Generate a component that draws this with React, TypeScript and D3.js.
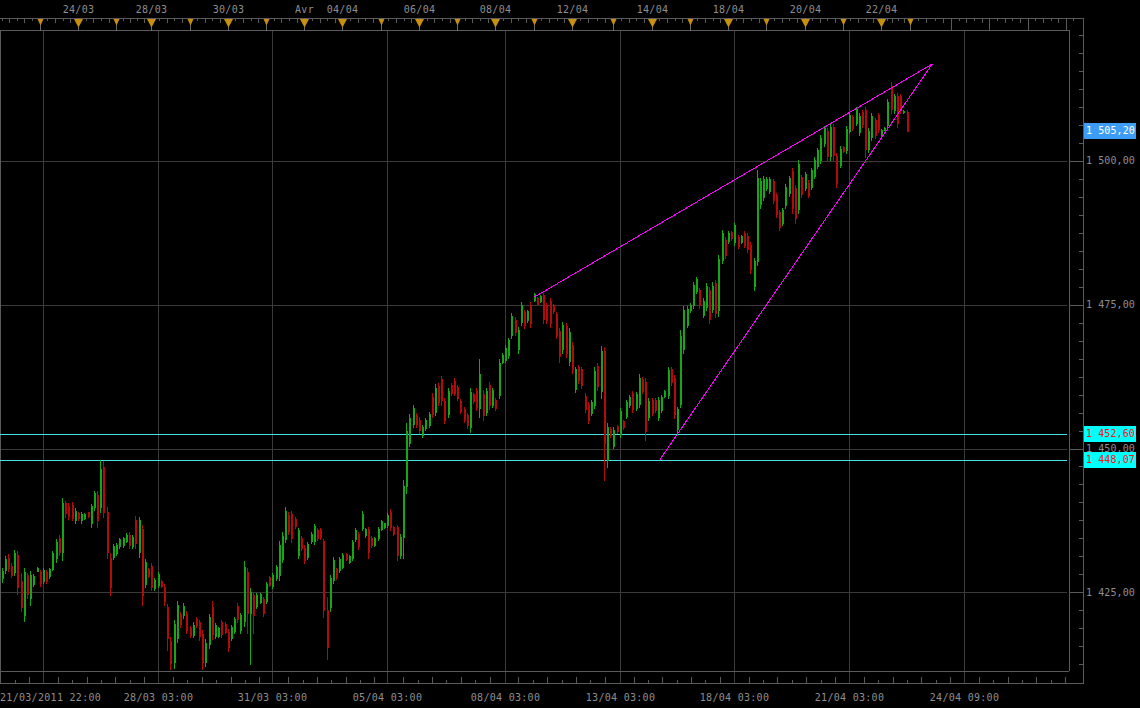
import * as d3 from 'd3';
import { useEffect } from 'react';

// 2h bars (prices)
const opens = [
  1427.5, 1428.9, 1431.0, 1429.6, 1428.5, 1431.5, 1427.0, 1421.0, 1428.0, 1424.0,
  1426.5, 1428.8, 1428.6, 1427.0, 1428.5, 1427.8, 1429.1, 1431.0, 1434.5, 1432.0,
  1440.5, 1440.0, 1440.2, 1437.6, 1438.8, 1437.5, 1437.9, 1438.9, 1437.0, 1439.8,
  1442.0, 1439.8, 1446.8, 1439.0, 1431.0, 1431.2, 1431.9, 1433.0, 1433.3, 1434.0,
  1435.0, 1433.0, 1437.5, 1432.0, 1436.0, 1426.5, 1429.0, 1429.6, 1425.8, 1426.3,
  1427.0, 1426.0, 1422.5, 1416.5, 1413.0, 1417.0, 1421.2, 1421.0, 1421.2, 1418.8,
  1417.6, 1420.4, 1419.8, 1417.8, 1413.0, 1416.0, 1422.5, 1417.5, 1417.5, 1419.8,
  1419.5, 1418.2, 1417.0, 1418.3, 1422.7, 1418.5, 1420.0, 1428.5, 1421.5, 1424.5,
  1422.6, 1423.4, 1423.8, 1423.5, 1427.6, 1426.2, 1427.5, 1428.0, 1430.8, 1434.3,
  1438.5, 1438.6, 1437.8, 1431.5, 1434.5, 1432.8, 1431.2, 1433.9, 1433.9, 1435.9,
  1436.0, 1434.0, 1422.0, 1422.5, 1427.2, 1429.0, 1428.9, 1429.5, 1431.6, 1430.3,
  1431.0, 1434.2, 1435.2, 1436.2, 1434.9, 1436.0, 1434.5, 1433.3, 1434.4, 1436.1,
  1436.4, 1436.7, 1439.0, 1436.3, 1436.3, 1431.5, 1434.7, 1443.5, 1451.0, 1454.2,
  1455.8, 1455.0, 1452.3, 1453.5, 1454.0, 1459.0, 1456.3, 1460.8, 1462.0, 1458.2,
  1456.0, 1461.1, 1461.8, 1460.6, 1458.3, 1456.8, 1455.8, 1453.8, 1459.4, 1460.0,
  1457.0, 1459.5, 1456.3, 1461.0, 1457.6, 1458.5, 1459.3, 1465.0, 1465.4, 1466.2,
  1469.7, 1472.4, 1467.2, 1472.0, 1473.7, 1472.3, 1475.0, 1475.8, 1476.1, 1475.6,
  1476.6, 1474.9, 1475.6, 1474.9, 1473.3, 1470.4, 1467.2, 1471.3, 1465.2, 1468.0,
  1460.3, 1464.1, 1463.8, 1459.2, 1457.6, 1456.2, 1457.6, 1464.3, 1460.0, 1467.0,
  1448.0, 1453.4, 1450.5, 1453.9, 1452.5, 1454.7, 1455.6, 1457.5, 1459.6, 1457.1,
  1457.8, 1462.0, 1461.6, 1455.4, 1458.4, 1458.5, 1455.4, 1456.7, 1459.1, 1459.3,
  1463.8, 1462.2, 1453.4, 1457.8, 1467.3, 1471.5, 1474.0, 1474.9, 1477.4, 1477.5,
  1473.2, 1474.6, 1477.5, 1474.2, 1478.7, 1474.0, 1482.8, 1486.2, 1486.0, 1487.6,
  1485.8, 1486.8, 1485.9, 1487.5, 1487.0, 1485.4, 1478.2, 1482.5, 1492.4, 1493.7,
  1495.2, 1494.8, 1496.4, 1494.0, 1491.0, 1489.2, 1492.3, 1494.3, 1498.2, 1495.3,
  1491.6, 1497.1, 1495.3, 1496.2, 1495.5, 1497.4, 1499.1, 1500.1, 1503.0, 1505.2,
  1500.8, 1505.9, 1500.8, 1499.3, 1502.3, 1501.8, 1505.2, 1507.6, 1506.6, 1505.0,
  1508.5, 1508.8, 1502.0, 1504.1, 1507.0, 1507.9, 1504.5, 1505.4, 1506.2, 1513.0,
  1508.8, 1511.2, 1511.2, 1508.4, 1508.5,
];
const highs = [
  1429.2, 1431.3, 1431.7, 1430.1, 1432.4, 1432.2, 1428.4, 1429.2, 1428.4, 1428.7,
  1428.2, 1429.4, 1428.9, 1429.2, 1428.9, 1429.2, 1432.2, 1434.3, 1435.0, 1441.4,
  1440.9, 1440.5, 1440.7, 1439.7, 1439.0, 1439.0, 1438.8, 1439.0, 1440.4, 1442.6,
  1442.6, 1448.0, 1447.8, 1439.8, 1431.8, 1433.4, 1433.6, 1434.5, 1434.6, 1435.3,
  1435.5, 1435.0, 1438.3, 1438.1, 1436.7, 1430.8, 1429.2, 1430.1, 1427.5, 1428.5,
  1427.2, 1426.5, 1423.0, 1417.3, 1420.2, 1423.5, 1421.6, 1423.1, 1421.8, 1419.1,
  1419.8, 1420.7, 1420.2, 1418.5, 1416.9, 1421.2, 1423.5, 1419.7, 1419.0, 1420.2,
  1419.8, 1418.6, 1419.3, 1420.7, 1423.1, 1421.4, 1430.4, 1429.2, 1425.8, 1424.9,
  1424.9, 1424.9, 1424.2, 1426.8, 1427.8, 1428.4, 1429.8, 1433.9, 1435.5, 1439.8,
  1439.0, 1439.1, 1438.1, 1436.2, 1434.8, 1433.2, 1433.7, 1435.5, 1436.9, 1436.2,
  1436.2, 1434.3, 1424.2, 1428.0, 1431.1, 1429.2, 1431.1, 1431.8, 1431.8, 1431.5,
  1434.1, 1436.2, 1435.5, 1439.1, 1436.2, 1436.4, 1434.8, 1434.6, 1436.4, 1437.6,
  1437.1, 1438.8, 1439.5, 1436.5, 1436.7, 1435.1, 1444.5, 1454.4, 1456.0, 1457.5,
  1456.2, 1455.5, 1454.1, 1455.3, 1456.3, 1459.6, 1461.2, 1461.4, 1462.6, 1458.8,
  1460.5, 1461.4, 1462.2, 1461.0, 1458.6, 1457.2, 1456.2, 1460.5, 1459.6, 1460.5,
  1465.5, 1460.2, 1460.5, 1461.6, 1460.5, 1458.8, 1465.5, 1466.6, 1467.9, 1469.2,
  1473.5, 1472.8, 1471.1, 1475.4, 1474.1, 1474.1, 1475.4, 1477.0, 1476.3, 1476.7,
  1477.0, 1475.3, 1476.1, 1475.1, 1473.7, 1470.9, 1472.0, 1471.8, 1470.9, 1468.5,
  1464.2, 1464.5, 1464.2, 1459.6, 1458.1, 1458.4, 1464.2, 1464.8, 1467.8, 1467.6,
  1454.4, 1453.7, 1453.7, 1454.1, 1457.0, 1454.9, 1458.4, 1459.3, 1460.0, 1459.8,
  1462.9, 1462.4, 1462.2, 1458.8, 1458.8, 1458.8, 1458.9, 1459.3, 1460.2, 1464.2,
  1464.2, 1462.8, 1457.2, 1470.6, 1474.7, 1474.7, 1475.3, 1478.9, 1479.8, 1477.9,
  1476.1, 1478.7, 1478.0, 1478.9, 1479.3, 1483.6, 1487.9, 1486.7, 1487.8, 1487.8,
  1489.2, 1487.1, 1487.1, 1487.8, 1487.4, 1485.9, 1483.1, 1498.4, 1497.0, 1497.3,
  1497.2, 1497.2, 1496.8, 1494.4, 1491.4, 1491.8, 1495.9, 1497.3, 1498.7, 1495.8,
  1500.1, 1497.5, 1498.0, 1496.6, 1498.7, 1500.6, 1502.2, 1504.4, 1506.0, 1505.7,
  1506.4, 1506.4, 1501.3, 1502.5, 1502.5, 1506.0, 1508.4, 1507.9, 1509.3, 1508.3,
  1508.8, 1509.3, 1505.7, 1508.3, 1507.4, 1508.3, 1505.5, 1505.8, 1510.7, 1513.7,
  1511.6, 1511.7, 1511.6, 1508.8, 1508.8,
];
const lows = [
  1426.8, 1428.4, 1428.7, 1427.7, 1428.0, 1424.7, 1421.8, 1420.0, 1424.0, 1422.8,
  1426.1, 1428.7, 1426.1, 1426.6, 1426.6, 1427.5, 1428.9, 1430.3, 1431.5, 1430.6,
  1438.1, 1437.7, 1437.6, 1437.1, 1437.6, 1437.1, 1437.7, 1438.1, 1436.4, 1439.3,
  1436.4, 1439.0, 1438.1, 1431.0, 1424.6, 1430.8, 1431.5, 1432.7, 1432.9, 1433.8,
  1432.7, 1432.7, 1432.7, 1431.1, 1422.8, 1425.9, 1427.7, 1425.4, 1425.4, 1425.9,
  1425.9, 1422.8, 1415.0, 1411.7, 1411.9, 1416.4, 1419.0, 1420.5, 1417.9, 1417.2,
  1417.2, 1419.0, 1416.7, 1411.7, 1412.2, 1415.3, 1416.9, 1417.1, 1417.2, 1417.2,
  1417.9, 1414.8, 1416.7, 1417.9, 1419.8, 1417.9, 1419.2, 1417.9, 1412.6, 1417.9,
  1422.3, 1423.2, 1420.9, 1423.2, 1426.1, 1425.8, 1427.2, 1427.2, 1430.3, 1433.8,
  1435.1, 1433.8, 1436.2, 1431.0, 1432.4, 1430.1, 1430.8, 1433.6, 1433.4, 1434.1,
  1434.3, 1420.7, 1413.4, 1421.8, 1426.6, 1427.3, 1428.5, 1429.2, 1430.6, 1430.1,
  1430.6, 1433.9, 1432.5, 1435.8, 1434.6, 1431.0, 1432.9, 1433.1, 1434.1, 1435.8,
  1436.2, 1436.4, 1435.8, 1435.0, 1430.6, 1431.0, 1431.0, 1442.3, 1450.4, 1453.7,
  1453.7, 1452.7, 1452.0, 1453.2, 1453.7, 1455.5, 1455.8, 1457.6, 1457.6, 1454.4,
  1455.5, 1459.3, 1459.3, 1458.4, 1456.2, 1454.6, 1453.5, 1452.9, 1457.9, 1456.7,
  1455.5, 1454.9, 1455.8, 1456.9, 1457.2, 1456.7, 1458.8, 1464.8, 1465.0, 1465.7,
  1469.2, 1469.7, 1466.6, 1471.5, 1470.9, 1472.0, 1471.1, 1475.6, 1474.9, 1475.4,
  1471.8, 1471.8, 1471.1, 1473.5, 1469.2, 1465.0, 1466.6, 1465.9, 1464.5, 1463.1,
  1459.8, 1461.4, 1460.5, 1456.3, 1454.4, 1455.8, 1457.0, 1460.2, 1458.8, 1444.5,
  1446.8, 1452.0, 1450.1, 1452.7, 1452.0, 1453.4, 1455.3, 1457.2, 1456.3, 1456.7,
  1457.2, 1459.6, 1451.5, 1454.9, 1455.8, 1456.3, 1454.9, 1456.3, 1458.9, 1458.8,
  1461.0, 1455.3, 1452.9, 1457.2, 1466.6, 1471.1, 1473.7, 1474.4, 1477.0, 1474.4,
  1472.8, 1474.1, 1471.8, 1473.7, 1472.8, 1473.0, 1482.2, 1483.1, 1485.7, 1486.2,
  1485.3, 1484.8, 1485.7, 1485.0, 1484.1, 1480.5, 1477.5, 1481.9, 1491.8, 1493.2,
  1494.9, 1494.4, 1492.6, 1490.2, 1487.9, 1488.8, 1491.8, 1493.9, 1490.9, 1489.2,
  1490.9, 1493.7, 1494.9, 1493.7, 1495.1, 1497.0, 1498.7, 1499.6, 1502.5, 1500.1,
  1500.1, 1500.1, 1495.4, 1498.9, 1501.5, 1501.3, 1504.8, 1505.3, 1506.2, 1504.5,
  1505.8, 1500.6, 1501.5, 1503.6, 1503.9, 1505.0, 1504.3, 1505.3, 1505.7, 1508.3,
  1508.3, 1505.8, 1508.3, 1508.3, 1505.2,
];
const closes = [
  1428.7, 1430.8, 1429.2, 1428.0, 1431.8, 1426.0, 1422.5, 1428.5, 1424.8, 1428.0,
  1427.8, 1429.3, 1426.6, 1428.9, 1427.0, 1429.0, 1431.8, 1433.8, 1432.0, 1440.5,
  1438.8, 1438.3, 1438.0, 1439.2, 1437.9, 1438.7, 1438.6, 1438.3, 1440.0, 1442.2,
  1437.5, 1446.5, 1439.0, 1432.0, 1426.0, 1433.0, 1433.2, 1434.3, 1434.4, 1435.0,
  1433.2, 1434.7, 1433.5, 1437.5, 1424.5, 1430.3, 1427.9, 1426.0, 1427.2, 1428.2,
  1426.1, 1423.5, 1417.0, 1412.8, 1419.5, 1422.8, 1419.5, 1422.7, 1418.5, 1417.6,
  1419.4, 1419.3, 1417.5, 1413.0, 1416.3, 1420.7, 1417.8, 1419.3, 1418.8, 1417.7,
  1418.2, 1415.6, 1419.0, 1420.3, 1420.3, 1421.0, 1429.5, 1421.5, 1425.0, 1421.0,
  1424.6, 1424.7, 1421.4, 1426.4, 1426.3, 1428.1, 1429.5, 1433.2, 1434.8, 1439.2,
  1435.6, 1434.5, 1436.5, 1435.8, 1432.8, 1430.6, 1433.4, 1435.2, 1436.5, 1434.4,
  1434.6, 1422.0, 1415.5, 1427.5, 1430.6, 1427.6, 1430.8, 1431.5, 1430.8, 1431.3,
  1433.7, 1435.9, 1433.0, 1438.7, 1436.0, 1432.0, 1433.2, 1434.4, 1436.1, 1437.4,
  1437.0, 1438.5, 1436.4, 1435.2, 1431.5, 1434.7, 1443.5, 1453.0, 1455.3, 1457.0,
  1454.2, 1453.2, 1453.8, 1455.0, 1456.0, 1456.0, 1460.5, 1458.1, 1458.5, 1455.0,
  1460.0, 1459.6, 1459.7, 1458.8, 1456.6, 1455.0, 1454.0, 1459.8, 1458.2, 1457.2,
  1463.0, 1455.8, 1460.0, 1457.5, 1460.1, 1457.0, 1464.8, 1466.3, 1467.5, 1468.8,
  1473.0, 1470.2, 1470.6, 1475.0, 1471.4, 1473.8, 1471.8, 1476.8, 1475.1, 1476.5,
  1472.5, 1472.3, 1471.8, 1473.8, 1469.8, 1466.0, 1471.4, 1466.6, 1470.2, 1463.8,
  1463.8, 1461.9, 1461.0, 1456.8, 1455.0, 1458.1, 1463.5, 1460.8, 1467.0, 1451.0,
  1453.8, 1452.3, 1453.3, 1453.0, 1456.5, 1453.7, 1458.0, 1459.0, 1456.8, 1459.5,
  1462.3, 1460.0, 1453.0, 1458.3, 1456.2, 1456.7, 1458.5, 1459.0, 1460.0, 1463.6,
  1461.5, 1456.0, 1456.8, 1469.5, 1474.0, 1474.3, 1475.0, 1478.4, 1479.5, 1474.9,
  1475.7, 1478.2, 1472.5, 1478.3, 1473.5, 1483.0, 1487.4, 1483.6, 1487.5, 1486.5,
  1488.8, 1485.1, 1486.9, 1485.4, 1484.6, 1481.2, 1482.5, 1497.0, 1496.5, 1496.9,
  1496.9, 1496.9, 1493.2, 1490.8, 1488.4, 1491.4, 1495.4, 1497.0, 1491.8, 1490.0,
  1499.4, 1494.2, 1497.7, 1494.1, 1498.3, 1500.2, 1501.8, 1503.9, 1505.6, 1500.8,
  1505.8, 1501.0, 1496.2, 1502.1, 1501.7, 1505.5, 1508.0, 1505.7, 1508.9, 1507.8,
  1506.3, 1502.0, 1505.2, 1507.8, 1504.4, 1505.5, 1505.3, 1505.7, 1510.2, 1509.0,
  1511.2, 1506.5, 1508.8, 1508.7, 1505.2,
];

// top time strip: day starts (bar index), labels on every other day
const dayIdx = [12, 24, 36, 47, 59, 71, 83, 95, 107, 119, 131, 143, 155, 167, 179, 192, 204, 216, 228, 240, 252, 264, 276, 285];
const dayLabels = ['', '24/03', '', '28/03', '', '30/03', '', 'Avr', '04/04', '', '06/04', '', '08/04', '', '12/04', '', '14/04', '', '18/04', '', '20/04', '', '22/04', ''];
const futureDayIdx = [298, 310, 322, 334];

// bottom time axis
const timeIdx = [13, 49, 85, 121, 158, 194, 230, 266, 302];
const timeLabels = ['21/03/2011 22:00', '28/03 03:00', '31/03 03:00', '05/04 03:00', '08/04 03:00', '13/04 03:00', '18/04 03:00', '21/04 03:00', '24/04 09:00'];

const priceTicks = [1425, 1450, 1475, 1500];
const levels = [1452.6, 1448.07];
const lastPrice = 1505.2;

// rising wedge, drawn by hand on the chart
const upperTrend = [{ i: 167.2, p: 1476.3 }, { i: 292.1, p: 1516.8 }];
const lowerTrend = [{ i: 206.6, p: 1448.07 }, { i: 292.1, p: 1516.8 }];

const W = 1140;
const H = 708;
const plotRight = 1069;
const plotTop = 30;
const plotBottom = 671;
const axisX = 1083;
const axisY = 683;
const stripTop = 18;

const UP = '#14a814';
const DOWN = '#b40a0a';
const GRID = '#3a3a3a';
const AXIS = '#5a5a5a';
const TEXT = '#8e8e8e';
const FONT = '"DejaVu Sans Mono", monospace';

const fmt = d3
  .formatLocale({ decimal: ',', thousands: ' ', grouping: [3], currency: ['', ''] })
  .format(',.2f');

export default function App() {
  useEffect(() => {
    document.body.style.margin = '0';
    document.body.style.background = '#000';
  }, []);

  const x = d3.scaleLinear().domain([0, highs.length - 1]).range([1.5, 906.5]);
  const y = d3.scaleLinear().domain([1411.35, 1522.7]).range([plotBottom, plotTop]);

  const gridXs = timeIdx.map((t) => Math.round(x(t)) + 0.5);
  const bStep = (gridXs[gridXs.length - 1] - gridXs[0]) / (8 * (gridXs.length - 1));
  const bottomTicks = d3.range(0, 80).map((k) => ({ k, px: gridXs[0] + (k - 3) * bStep })).filter((d) => d.px > 2 && d.px < axisX && (d.k - 3) % 8 !== 0);

  const allDays = [...dayIdx, ...futureDayIdx].map((d) => x(d));
  const dStep = (allDays[1] - allDays[0]) / 5;
  const stripTicks: { px: number; tall: boolean }[] = [];
  for (let j = 1; j < 6; j++) {
    const px = allDays[0] - j * dStep;
    if (px > 1) stripTicks.push({ px, tall: j % 2 === 0 });
  }
  for (let a = 0; a < allDays.length; a++) {
    const next = a < allDays.length - 1 ? allDays[a + 1] : allDays[a] + 38;
    const st = (next - allDays[a]) / 5;
    for (let j = 1; j < 5; j++) {
      const px = allDays[a] + j * st;
      if (px < axisX - 2) stripTicks.push({ px, tall: j % 2 === 0 });
    }
  }

  const minorPrices = d3.range(1400, 1530, 3.125).filter((p) => y(p) > plotTop + 2 && y(p) < axisY - 2);

  const lineY = (p: number) => Math.round(y(p)) + 0.5;

  return (
    <svg width={W} height={H} style={{ position: 'absolute', left: 0, top: 0, display: 'block', background: '#000' }}>
      <rect x={0} y={0} width={W} height={H} fill="#000" />

      {/* grid */}
      <g stroke={GRID} strokeWidth={1} shapeRendering="crispEdges">
        {priceTicks.map((p) => (
          <line key={p} x1={0} x2={1067} y1={lineY(p)} y2={lineY(p)} />
        ))}
        {gridXs.map((gx, i) => (
          <line key={i} x1={gx} x2={gx} y1={plotTop} y2={axisY} />
        ))}
      </g>

      {/* frame and axes */}
      <g stroke={AXIS} strokeWidth={1} shapeRendering="crispEdges" fill="none">
        <line x1={0} x2={axisX} y1={stripTop + 0.5} y2={stripTop + 0.5} />
        <line x1={0} x2={plotRight} y1={plotTop + 0.5} y2={plotTop + 0.5} />
        <line x1={0.5} x2={0.5} y1={plotTop} y2={axisY} />
        <line x1={plotRight + 0.5} x2={plotRight + 0.5} y1={plotTop} y2={plotBottom} />
        <line x1={0} x2={plotRight} y1={plotBottom + 0.5} y2={plotBottom + 0.5} />
        <line x1={0} x2={axisX} y1={axisY + 0.5} y2={axisY + 0.5} />
        <line x1={axisX + 0.5} x2={axisX + 0.5} y1={stripTop} y2={axisY + 1} />
        {minorPrices.map((p) => (
          <line key={p} x1={axisX - 4} x2={axisX} y1={lineY(p)} y2={lineY(p)} />
        ))}
        {priceTicks.map((p) => (
          <line key={'m' + p} x1={plotRight} x2={axisX} y1={lineY(p)} y2={lineY(p)} />
        ))}
        {bottomTicks.map((t) => {
          const bx = Math.round(t.px) + 0.5;
          return <line key={t.k} x1={bx} x2={bx} y1={axisY - ((t.k - 3) % 2 !== 0 ? 6 : 3)} y2={axisY} />;
        })}
        {stripTicks.map((t, i) => {
          const sx = Math.round(t.px) + 0.5;
          return <line key={i} x1={sx} x2={sx} y1={stripTop} y2={stripTop + (t.tall ? 5 : 3)} />;
        })}
        {futureDayIdx.map((d) => {
          const sx = Math.round(x(d)) + 0.5;
          return <line key={d} x1={sx} x2={sx} y1={stripTop} y2={plotTop} />;
        })}
      </g>

      {/* day markers */}
      {dayIdx.map((d, i) => {
        const cx = Math.round(x(d)) + 0.5;
        const big = dayLabels[i] !== '';
        const hw = big ? 4.5 : 3;
        const h = big ? 8.5 : 6.5;
        return (
          <g key={d}>
            <line x1={cx} x2={cx} y1={stripTop} y2={plotTop + 1} stroke="#6a6a6a" shapeRendering="crispEdges" />
            <path d={`M${cx - hw},${stripTop + 1}L${cx + hw},${stripTop + 1}L${cx},${stripTop + 1 + h}Z`} fill="#c8900e" />
            {big && (
              <text x={cx} y={13} textAnchor="middle" fill={TEXT} fontFamily={FONT} fontSize={10} letterSpacing={0.3}>
                {dayLabels[i]}
              </text>
            )}
          </g>
        );
      })}

      {/* horizontal levels */}
      <g stroke="#48e2e2" strokeWidth={1} shapeRendering="crispEdges">
        {levels.map((l) => (
          <line key={l} x1={0} x2={1067} y1={lineY(l)} y2={lineY(l)} />
        ))}
      </g>

      {/* bars */}
      <g shapeRendering="crispEdges">
        {highs.map((hi, i) => {
          const bx = Math.round(x(i));
          const yh = Math.round(y(hi));
          const yl = Math.round(y(lows[i]));
          const yo = Math.round(y(opens[i]));
          const yc = Math.round(y(closes[i]));
          const col = closes[i] >= opens[i] ? UP : DOWN;
          return (
            <g key={i} fill={col}>
              <rect x={bx} y={yh} width={1} height={Math.max(1, yl - yh + 1)} />
              <rect x={bx} y={Math.min(yo, yc)} width={2} height={Math.max(1, Math.abs(yo - yc) + 1)} />
            </g>
          );
        })}
      </g>

      {/* wedge */}
      <g stroke="#ff00ff" strokeWidth={1} shapeRendering="crispEdges">
        {[upperTrend, lowerTrend].map((t, i) => (
          <line key={i} x1={x(t[0].i)} y1={y(t[0].p)} x2={x(t[1].i)} y2={y(t[1].p)} />
        ))}
      </g>

      {/* price labels */}
      {priceTicks.map((p) => (
        <text key={p} x={axisX + 3} y={y(p) + 3.5} fill={TEXT} fontFamily={FONT} fontSize={10} letterSpacing={0.1}>
          {fmt(p)}
        </text>
      ))}
      {levels.map((l) => (
        <g key={l}>
          <rect x={axisX + 1} y={Math.round(y(l)) - 8} width={52} height={16} fill="#00ffff" />
          <text x={axisX + 3} y={y(l) + 3.5} fill="#ff1010" fontFamily={FONT} fontSize={10} letterSpacing={0.1}>
            {fmt(l)}
          </text>
        </g>
      ))}
      <rect x={axisX + 1} y={Math.round(y(lastPrice)) - 8} width={52} height={16} fill="#3d9cf5" />
      <text x={axisX + 3} y={y(lastPrice) + 3.5} fill="#ffffff" fontFamily={FONT} fontSize={10} letterSpacing={0.1}>
        {fmt(lastPrice)}
      </text>

      {/* bottom labels */}
      {timeLabels.map((t, i) => (
        <text
          key={t}
          x={i === 0 ? 0 : gridXs[i]}
          y={701}
          textAnchor={i === 0 ? 'start' : 'middle'}
          fill={TEXT}
          fontFamily={FONT}
          fontSize={10}
          letterSpacing={0.3}
        >
          {t}
        </text>
      ))}
    </svg>
  );
}
